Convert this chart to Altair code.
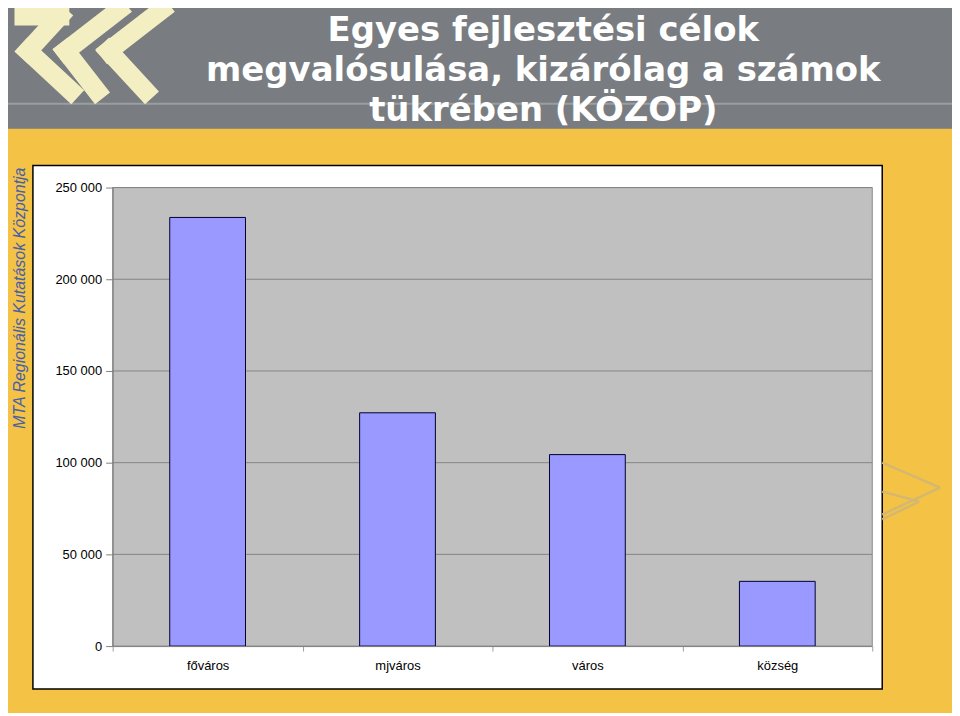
import altair as alt
import pandas as pd

# ---- data ----
categories = ["főváros", "mjváros", "város", "község"]
values = [233700, 127200, 104400, 35300]
grid_values = [50000, 100000, 150000, 200000, 250000]
y_ticks = [0, 50000, 100000, 150000, 200000, 250000]
title_lines = ["Egyes fejlesztési célok", "megvalósulása, kizárólag a számok", "tükrében (KÖZOP)"]
side_text = "MTA Regionális Kutatások Központja"

df = pd.DataFrame({"cat": categories, "val": values})
grid_df = pd.DataFrame({"v": grid_values})
dummy = pd.DataFrame({"k": [0]})

W, H = 762, 460

y_scale = alt.Scale(domain=[0, 250000], nice=False)
x_axis = alt.Axis(
    title=None, labelAngle=0, grid=False, domainColor="#808080", tickColor="#a0a0a0",
    tickSize=5, tickBand="extent", labelFont="Liberation Sans", labelFontSize=13,
    labelColor="black", labelPadding=8, zindex=5,
)
y_axis = alt.Axis(
    title=None, values=y_ticks, grid=False, domainColor="#808080", tickColor="#808080",
    tickSize=7, labelFont="Liberation Sans", labelFontSize=13, labelColor="black",
    labelPadding=4, zindex=5,
    labelExpr="replace(format(datum.value, ','), /,/g, ' ')",
)


def rect(x, x2, y, y2, **kw):
    return alt.Chart(dummy).mark_rect(**kw).encode(
        x=alt.value(x), x2=alt.value(x2), y=alt.value(y), y2=alt.value(y2))


def seg(p, q, **kw):
    return alt.Chart(dummy).mark_rule(**kw).encode(
        x=alt.value(p[0]), y=alt.value(p[1]), x2=alt.value(q[0]), y2=alt.value(q[1]))


def poly(points, **kw):
    return [seg(points[i], points[i + 1], **kw) for i in range(len(points) - 1)]


layers = []
# header
layers.append(rect(-110, 842, -190, -59, color="#797d81"))
layers.append(rect(-110, 842, -85, -83, color="#9a9ea1"))
# logo (decoration)
logo_style = dict(color="#f3efc2", strokeWidth=19, strokeCap="square")
layers += poly([(-89, -172), (-53, -172), (-85, -137), (-42, -97)], **logo_style)
layers += poly([(6, -178), (-47, -137), (-16, -97)], **logo_style)
layers += poly([(49, -178), (-4, -137), (33, -97)], **logo_style)
# title
for line, yb in zip(title_lines, [-147, -107, -67]):
    layers.append(alt.Chart(dummy).mark_text(
        text=line, font="DejaVu Sans", fontWeight="bold", fontSize=34,
        color="white", align="center", baseline="alphabetic"
    ).encode(x=alt.value(432), y=alt.value(yb)))
# side text
layers.append(alt.Chart(dummy).mark_text(
    text=side_text, font="Liberation Sans", fontStyle="italic", fontSize=16,
    color="#4560a8", angle=270, align="center", baseline="middle"
).encode(x=alt.value(-93), y=alt.value(111)))
# white chart box
layers.append(rect(-80, 772, -22, 503, color="white", stroke="black", strokeWidth=1.5))
# gray plot area
layers.append(rect(0, W, 0, H, color="#c0c0c0", stroke="#8a8a8a", strokeWidth=1))
# grid
layers.append(alt.Chart(grid_df).mark_rule(color="#858585", strokeWidth=1).encode(
    y=alt.Y("v:Q", scale=y_scale, axis=y_axis)))
# bars
layers.append(alt.Chart(df).mark_bar(
    size=76, color="#9999ff", stroke="#000033", strokeWidth=1
).encode(
    x=alt.X("cat:N", sort=categories, scale=alt.Scale(paddingInner=0, paddingOuter=0), axis=x_axis),
    y=alt.Y("val:Q", scale=y_scale, axis=y_axis),
))
# faint chevrons right
faint = dict(color="#d4b86f", strokeWidth=2.5)
layers += poly([(772, 276), (830, 301), (772, 328)], **faint)
layers += poly([(772, 305), (809, 315), (772, 333)], **faint)

chart = alt.layer(*layers).properties(
    width=W, height=H,
    autosize=alt.AutoSizeParams(type="none"),
    padding={"left": 105, "top": 179, "right": 80, "bottom": 66},
    background="#f4c244",
).configure_view(strokeWidth=0)

chart.save("out.html", embed_options={"renderer": "svg", "actions": False})
